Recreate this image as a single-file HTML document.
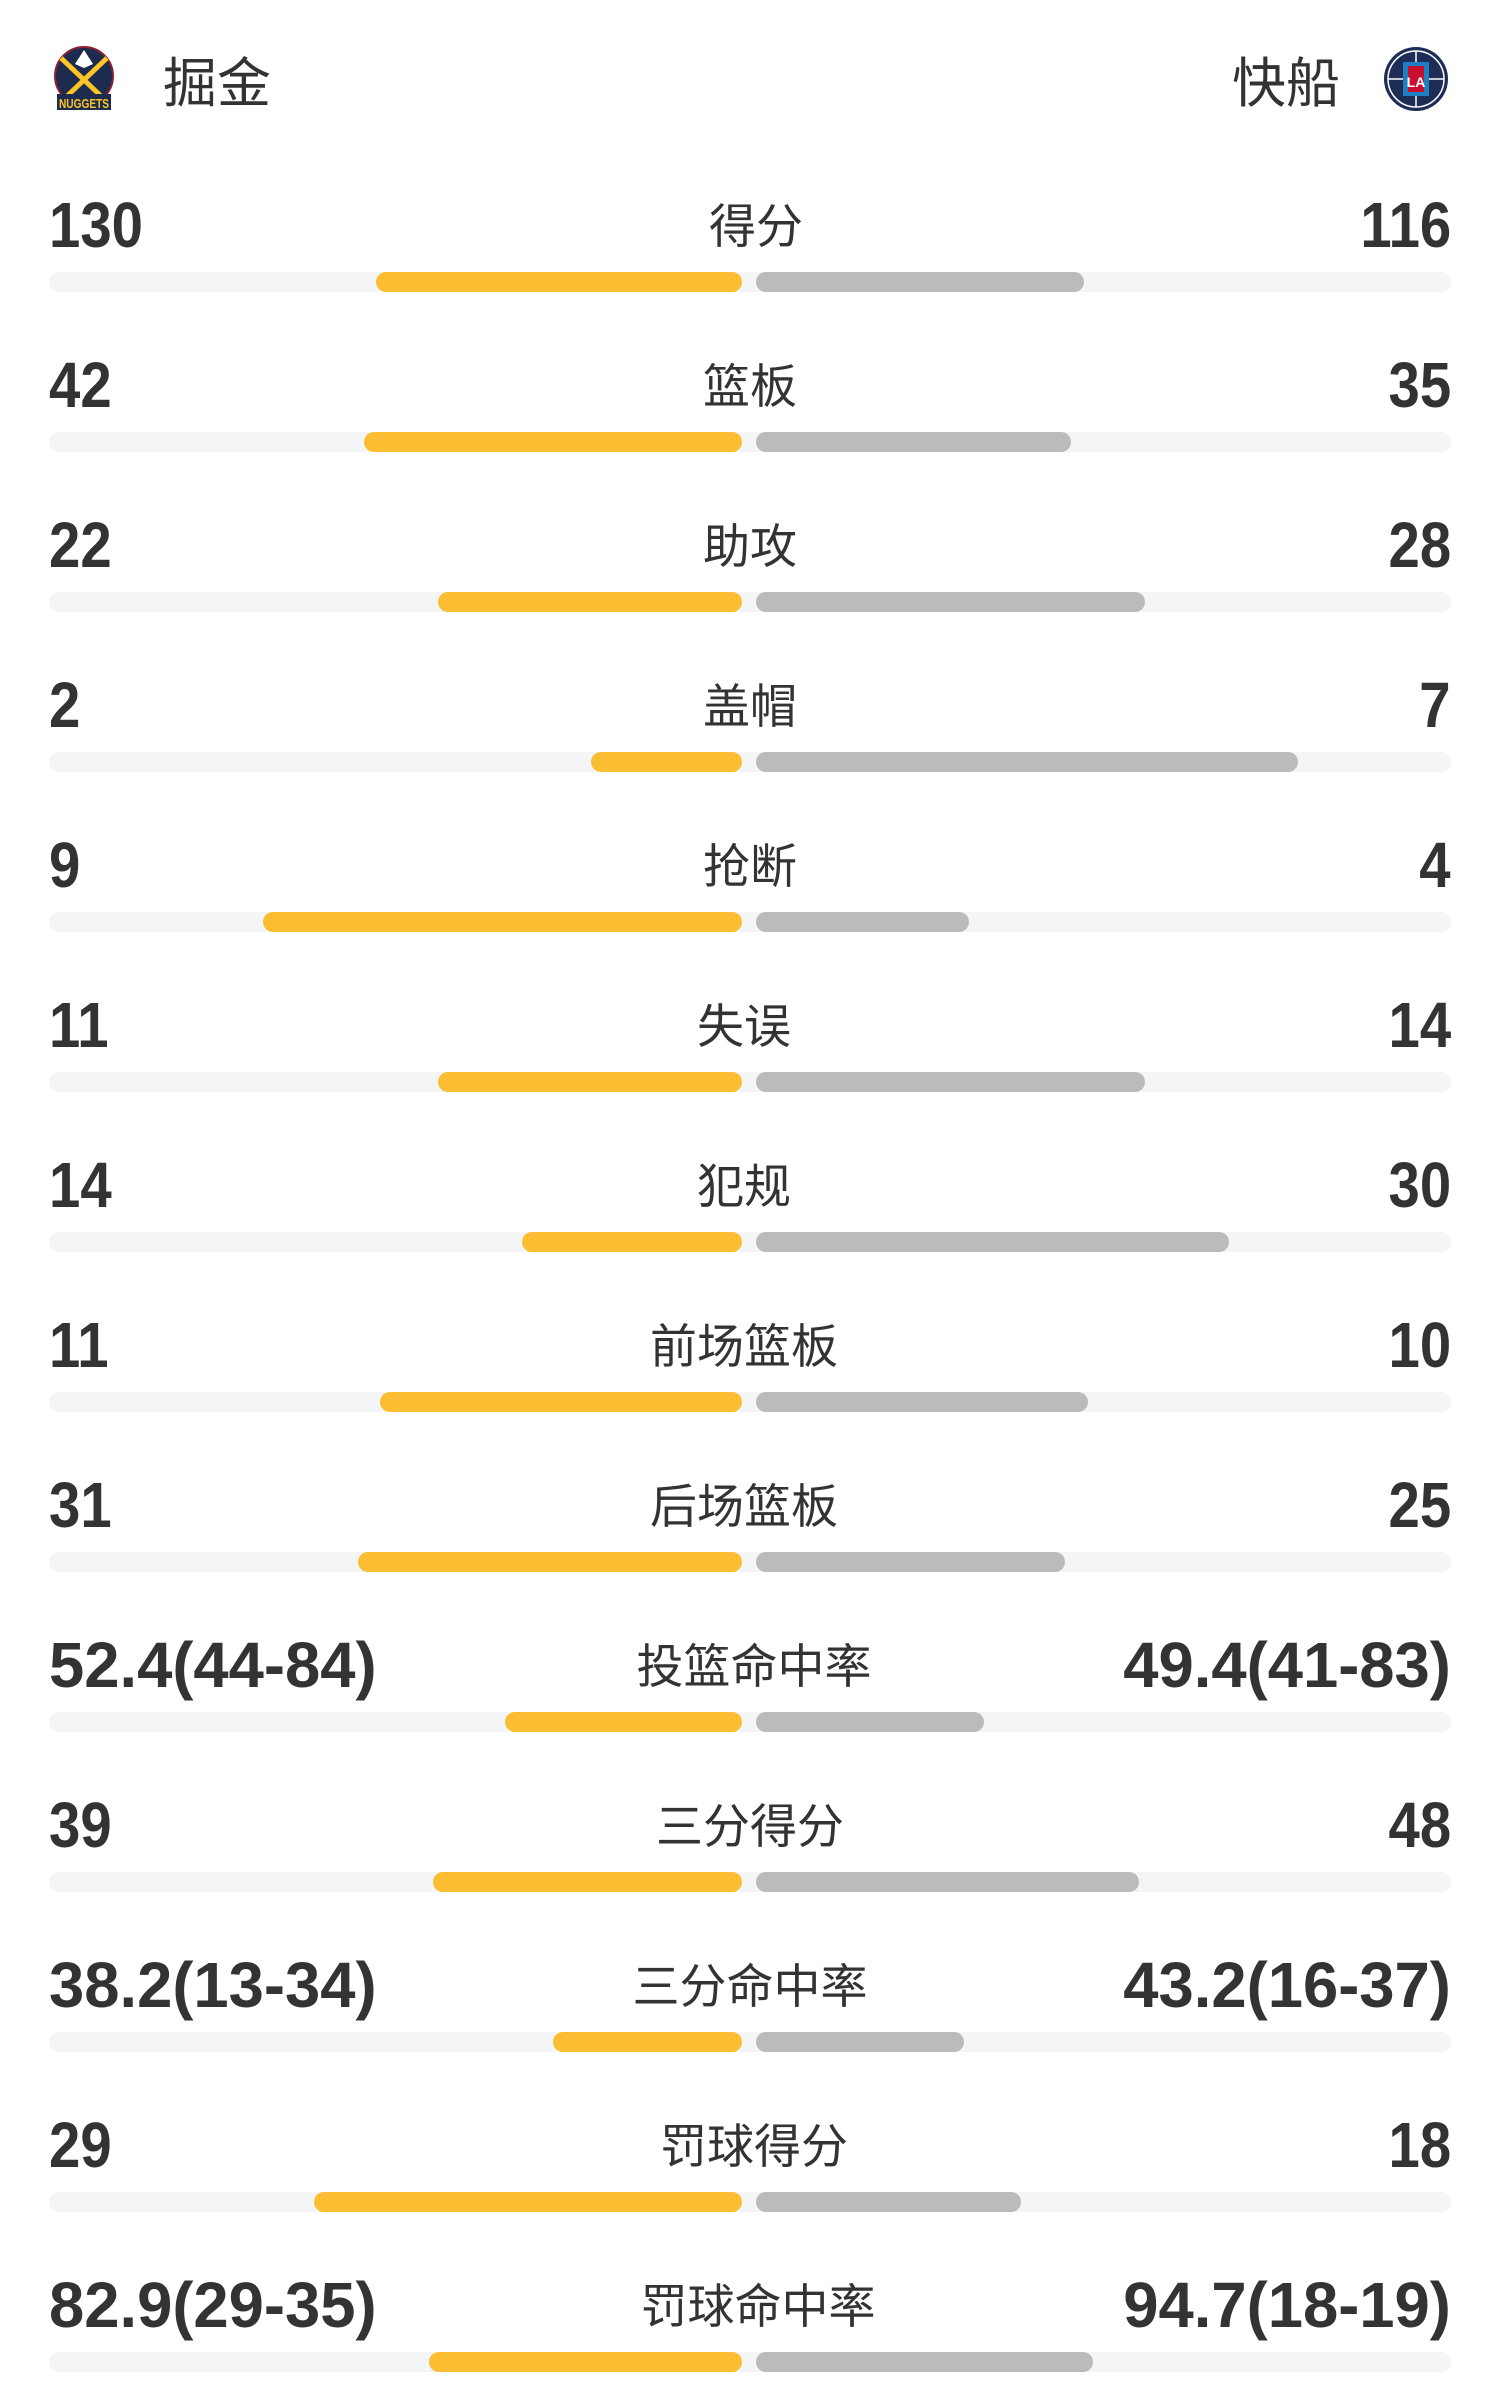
<!DOCTYPE html>
<html><head><meta charset="utf-8"><style>
*{margin:0;padding:0;box-sizing:border-box}
body{width:1500px;height:2400px;background:#fff;position:relative;overflow:hidden;font-family:"Liberation Sans","Noto Sans CJK SC",sans-serif;color:#333}
.n{position:absolute;font-weight:bold;font-size:64px;line-height:64px;white-space:nowrap}
.l{left:49px;transform-origin:left}
.r{right:49px;transform-origin:right}
.lab{position:absolute;left:450px;width:600px;text-align:center;font-size:47px;line-height:64px;font-family:"Noto Sans CJK SC",sans-serif;color:#333}
.tr{position:absolute;left:49px;width:1402px;height:20px;border-radius:10px;background:#f4f5f7}
.y{position:absolute;height:20px;border-radius:10px;background:#fbbd31}
.g{position:absolute;height:20px;border-radius:10px;background:#bbbbbb}
.team{position:absolute;top:46px;font-size:54px;line-height:66px;font-family:"Noto Sans CJK SC",sans-serif;color:#333}
</style></head><body>
<svg style="position:absolute;left:53px;top:46px" width="62" height="68" viewBox="0 0 62 68">
<ellipse cx="31" cy="30" rx="29" ry="29" fill="#1d2b4e" stroke="#8b2131" stroke-width="2"/>
<path d="M8 12 L50 52 M54 12 L12 52" stroke="#fec524" stroke-width="5"/>
<path d="M31 4 L40 18 L31 22 L22 18Z" fill="#fff"/>
<rect x="4" y="48" width="54" height="16" fill="#1d2b4e"/>
<text x="31" y="62" font-size="13" font-weight="bold" fill="#fec524" text-anchor="middle" font-family="Liberation Sans" textLength="50" lengthAdjust="spacingAndGlyphs">NUGGETS</text>
</svg>
<div class="team" style="left:163px">掘金</div>
<div class="team" style="left:1232px">快船</div>
<svg style="position:absolute;left:1383px;top:46px" width="66" height="66" viewBox="0 0 66 66">
<circle cx="33" cy="33" r="32" fill="#1d2d56"/>
<circle cx="33" cy="33" r="28" fill="none" stroke="#fff" stroke-width="1.5"/>
<line x1="5" y1="33" x2="61" y2="33" stroke="#fff" stroke-width="1.5"/>
<line x1="33" y1="5" x2="33" y2="61" stroke="#fff" stroke-width="1.5"/>
<rect x="20" y="16" width="26" height="34" fill="#1d80c3"/>
<rect x="25" y="20" width="16" height="26" fill="#c8102e"/>
<text x="33" y="41" font-size="14" font-weight="bold" fill="#fff" text-anchor="middle" font-family="Liberation Sans">LA</text>
</svg>

<div id="rows"></div>
<script>
var d=[["130","得分","116",376,1084,6],["42","篮板","35",364,1071,0],["22","助攻","28",438,1145,0],["2","盖帽","7",591,1298,0],["9","抢断","4",263,969,0],["11","失误","14",438,1145,-6],["14","犯规","30",522,1229,-6],["11","前场篮板","10",380,1088,-6],["31","后场篮板","25",358,1065,-6],["52.4(44-84)","投篮命中率","49.4(41-83)",505,984,4],["39","三分得分","48",433,1139,0],["38.2(13-34)","三分命中率","43.2(16-37)",553,964,0],["29","罚球得分","18",314,1021,4],["82.9(29-35)","罚球命中率","94.7(18-19)",429,1093,8]];
var h="";
for(var i=0;i<d.length;i++){var t=272+160*i,b=t-79;var r=d[i];
var s1=r[0].length>4?0.99:0.88,s2=r[2].length>4?0.99:0.88;
h+='<div class="n l" style="top:'+b+'px;transform:scaleX('+s1+')">'+r[0]+'</div>';
h+='<div class="lab" style="top:'+(b-2)+'px;margin-left:'+r[5]+'px">'+r[1]+'</div>';
h+='<div class="n r" style="top:'+b+'px;transform:scaleX('+s2+')">'+r[2]+'</div>';
h+='<div class="tr" style="top:'+t+'px"></div>';
h+='<div class="y" style="top:'+t+'px;left:'+r[3]+'px;width:'+(742-r[3])+'px"></div>';
h+='<div class="g" style="top:'+t+'px;left:756px;width:'+(r[4]-756)+'px"></div>';}
document.getElementById("rows").innerHTML=h;
</script>
</body></html>
